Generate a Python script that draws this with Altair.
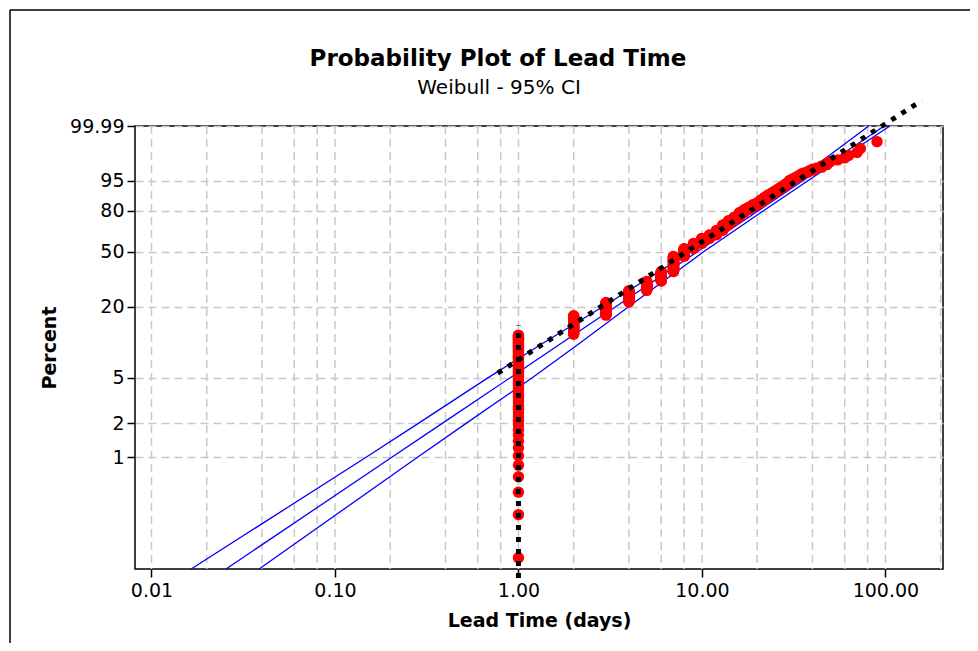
import numpy as np
import pandas as pd
import altair as alt

# ---------------- data ----------------
# lead time values (days) and how many observations share each value
lead_values = [1, 2, 3, 4, 5, 6, 7, 8, 9, 10, 11, 12, 13, 14, 15, 16, 17, 18, 19, 20,
               21, 22, 23, 24, 25, 26, 27, 28, 29, 30, 31, 32, 33, 34, 35, 36, 38, 40,
               42, 45, 48, 50, 55, 60, 63, 70, 73, 90]
lead_counts = [65, 29, 26, 28, 26, 30, 55, 30, 22, 21, 14, 19, 23, 18, 14, 17, 11, 9, 9, 6,
               9, 8, 7, 5, 5, 5, 4, 4, 4, 5, 2, 2, 2, 2, 2, 1, 2, 2,
               1, 2, 2, 1, 1, 1, 1, 1, 1, 1]

# percent levels at which the fitted line and its 95% CI were read
ci_pct = [0.1, 1, 2, 5, 10, 20, 50, 80, 95, 99.99]
ci_left = [0.01645, 0.1485, 0.2861, 0.681, 1.366, 2.894, 8.737, 18.95, 32.47, 81.1]
ci_mid = [0.02548, 0.205, 0.386, 0.898, 1.72, 3.40, 9.47, 20.3, 35.6, 98.4]
ci_right = [0.03857, 0.283, 0.5207, 1.184, 2.165, 3.995, 10.26, 21.65, 37.97, 105.7]

# black dotted reference line and vertical dotted line at 1 day
ref_x = [0.771, 157.7]
ref_pct = [5.512, 99.9999827]
vert_x = [1, 1]
vert_pct = [0.083, 14.05]

# axis ticks and grid
y_tick_pct = [1, 2, 5, 20, 50, 80, 95, 99.99]
x_tick_vals = [0.01, 0.1, 1, 10, 100]
x_grid_vals = [0.01, 0.02, 0.04, 0.06, 0.08, 0.1, 0.2, 0.4, 0.6, 0.8,
               1, 2, 4, 6, 8, 10, 20, 40, 60, 80, 100, 200]
y_domain_pct = [0.1, 99.99]
x_domain = [0.00813, 206]

title_text = "Probability Plot of Lead Time"
subtitle_text = "Weibull - 95% CI"


def wtrans(p):
    p = np.asarray(p, dtype=float) / 100.0
    return np.log(-np.log(1.0 - p))


# points with median-rank plotting positions
vals = np.repeat(lead_values, lead_counts)
n = len(vals)
ranks = np.arange(1, n + 1)
pos = (ranks - 0.3) / (n + 0.4) * 100
pts = pd.DataFrame({"x": vals, "w": wtrans(pos)})

ci_df = pd.concat([
    pd.DataFrame({"x": ci_left, "w": wtrans(ci_pct), "line": "lower"}),
    pd.DataFrame({"x": ci_mid, "w": wtrans(ci_pct), "line": "fit"}),
    pd.DataFrame({"x": ci_right, "w": wtrans(ci_pct), "line": "upper"}),
])
ref_df = pd.DataFrame({"x": ref_x, "w": wtrans(ref_pct)})
vert_df = pd.DataFrame({"x": vert_x, "w": wtrans(vert_pct)})
grid_df = pd.DataFrame({"x": x_grid_vals})
one_df = pd.DataFrame({"a": [0]})
title_df = pd.DataFrame({"t": [title_text]})
subtitle_df = pd.DataFrame({"t": [subtitle_text]})

wdom = [float(v) for v in wtrans(y_domain_pct)]
ytick_w = [float(v) for v in wtrans(y_tick_pct)]

W, H = 808, 443
FONT = "DejaVu Sans"

X = alt.X("x:Q",
          scale=alt.Scale(type="log", domain=x_domain, nice=False),
          axis=alt.Axis(values=x_tick_vals, format=".2f", grid=False,
                        title="Lead Time (days)", titlePadding=11, labelPadding=4))
Y = alt.Y("w:Q",
          scale=alt.Scale(domain=wdom, nice=False, zero=False),
          axis=alt.Axis(values=ytick_w, grid=True,
                        labelExpr="format(100*(1-exp(-exp(datum.value))), '.4~r')",
                        title="Percent", titlePadding=10, labelPadding=3))

grid = alt.Chart(grid_df).mark_rule(color="#C8C8C8", strokeWidth=1.5, strokeDash=[8, 5]).encode(x=X)

ci = alt.Chart(ci_df).mark_line(color="#0000FF", strokeWidth=1.3).encode(
    x=X, y=Y, detail="line:N")

points = alt.Chart(pts).mark_circle(size=130, color="#FF0000", opacity=1).encode(x=X, y=Y)

ref = alt.Chart(ref_df).mark_line(color="black", strokeWidth=5, strokeDash=[5, 7]).encode(x=X, y=Y)
vert = alt.Chart(vert_df).mark_line(color="black", strokeWidth=5, strokeDash=[5, 7]).encode(x=X, y=Y)

frame_left = alt.Chart(one_df).mark_rule(color="black", strokeWidth=1.5).encode(
    x=alt.value(-125), y=alt.value(-116), y2=alt.value(520))
frame_top = alt.Chart(one_df).mark_rule(color="black", strokeWidth=1.5).encode(
    x=alt.value(-125), x2=alt.value(840), y=alt.value(-116))

title = alt.Chart(title_df).mark_text(
    font=FONT, fontSize=23, fontWeight="bold", color="black", align="center", baseline="alphabetic"
).encode(text="t:N", x=alt.value(363), y=alt.value(-60))
subtitle = alt.Chart(subtitle_df).mark_text(
    font=FONT, fontSize=20, color="black", align="center", baseline="alphabetic"
).encode(text="t:N", x=alt.value(364), y=alt.value(-32))

chart = alt.layer(grid, ci, points, ref, vert, frame_left, frame_top, title, subtitle).properties(
    width=W, height=H,
    autosize=alt.AutoSizeParams(type="none"),
    padding={"left": 127, "top": 118, "right": 27, "bottom": 74},
).configure(font=FONT).configure_view(
    stroke="black", strokeWidth=1.5
).configure_axis(
    domain=False, labelFont=FONT, labelFontSize=19, labelColor="black",
    tickColor="black", tickWidth=1.5, tickSize=8,
    titleFont=FONT, titleFontSize=19, titleFontWeight="bold", titleColor="black",
    gridColor="#C8C8C8", gridWidth=1.5, gridDash=[8, 5],
)

chart.save("out.html", embed_options={"renderer": "svg", "actions": False})
